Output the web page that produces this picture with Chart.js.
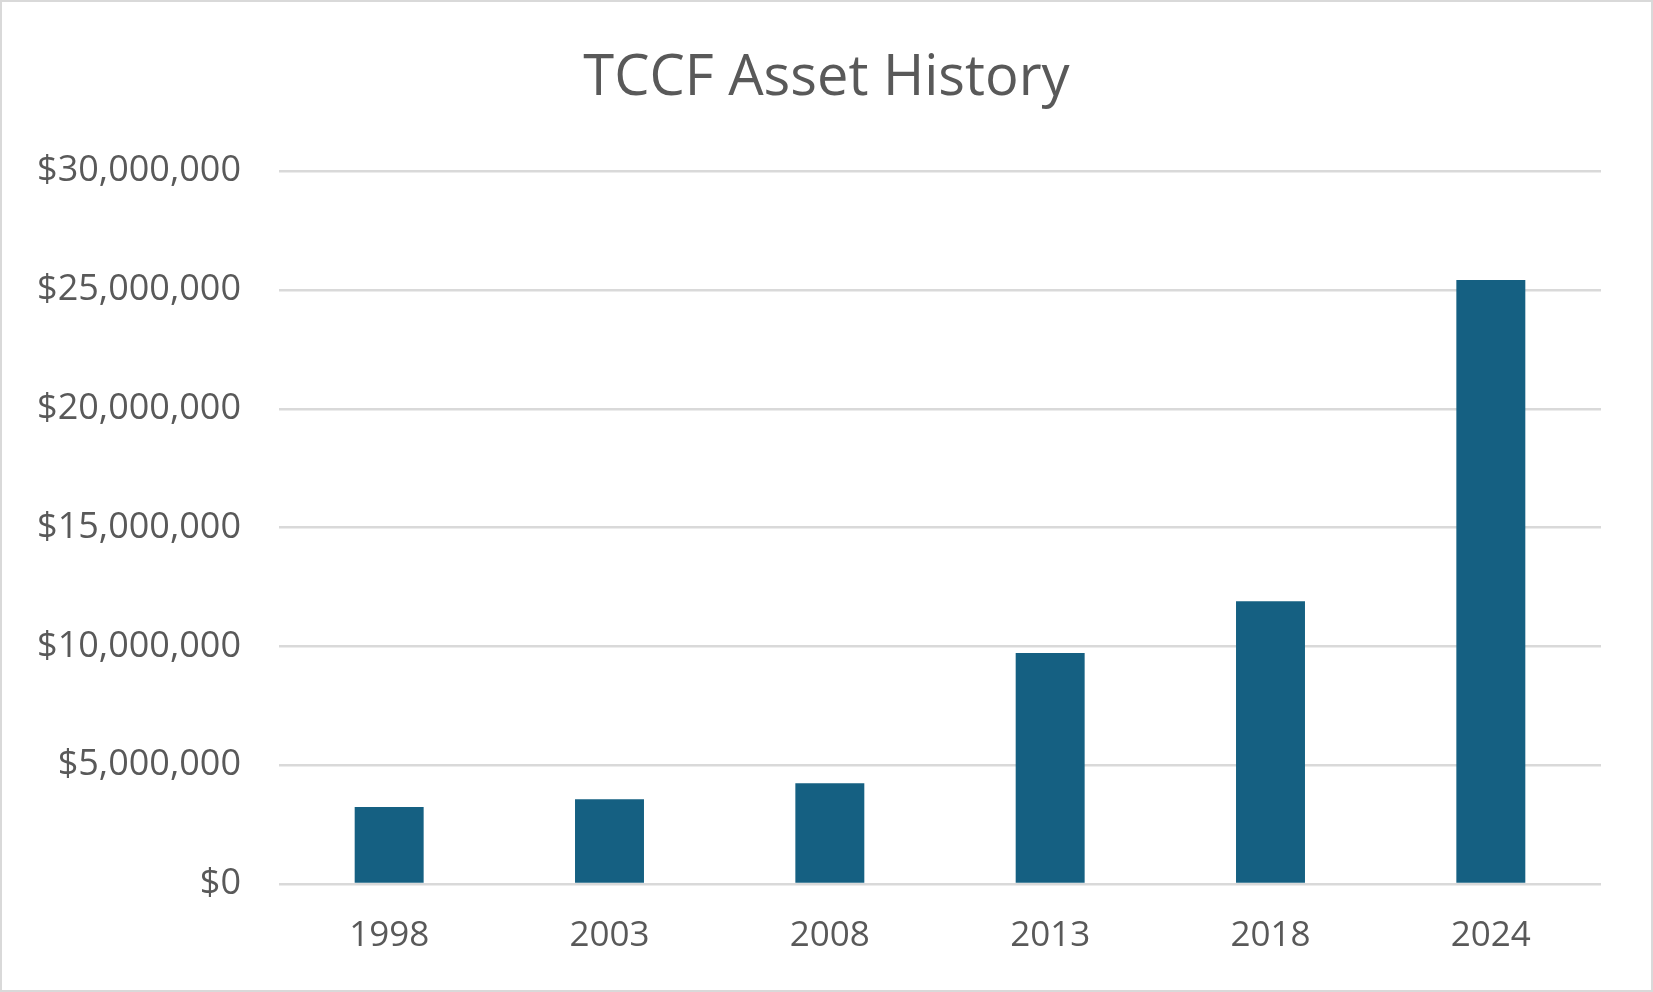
<!DOCTYPE html>
<html>
<head>
<meta charset="utf-8">
<script src="https://cdn.jsdelivr.net/npm/chart.js@4"></script>
<style>
    body { margin: 0; background: #fff; }
    #wrap { width: 1653px; height: 992px; }
</style>
</head>
<body>
<div id="wrap"><canvas id="assetChart" width="1653" height="992"></canvas></div>
<script>
// Chart data
const years = ['1998', '2003', '2008', '2013', '2018', '2024'];
const assets = [3240000, 3570000, 4240000, 9720000, 11900000, 25420000];
const yTicks = [0, 5000000, 10000000, 15000000, 20000000, 25000000, 30000000];

const textColor = '#595959';
const fontFamily = '"Open Sans", "Noto Sans", sans-serif';

// white background + thin grey frame round the whole chart
const framePlugin = {
    id: 'frame',
    beforeDraw(chart) {
        const c = chart.ctx;
        c.save();
        c.fillStyle = '#ffffff';
        c.fillRect(0, 0, chart.width, chart.height);
        c.strokeStyle = '#d9d9d9';
        c.lineWidth = 2;
        c.strokeRect(1, 1, chart.width - 2, chart.height - 2);
        c.restore();
    }
};

document.addEventListener('DOMContentLoaded', function() {
    const ctx = document.getElementById('assetChart');
    new Chart(ctx, {
        type: 'bar',
        data: {
            labels: years,
            datasets: [{
                label: 'Assets',
                data: assets,
                backgroundColor: '#156082',
                borderWidth: 0,
                categoryPercentage: 1,
                barPercentage: 0.313
            }]
        },
        options: {
            responsive: false,
            devicePixelRatio: 1,
            animation: false,
            layout: { padding: 0 },
            plugins: {
                legend: { display: false },
                tooltip: { enabled: false },
                title: {
                    display: true,
                    text: 'TCCF Asset History',
                    color: textColor,
                    font: { family: fontFamily, size: 56, weight: 'normal' },
                    padding: { top: 45, bottom: 59 }
                }
            },
            scales: {
                x: {
                    afterFit: function(scale) { scale.height = 108; },
                    grid: { display: false, drawTicks: false },
                    border: { display: false },
                    ticks: {
                        color: textColor,
                        font: { family: fontFamily, size: 35 },
                        padding: 31
                    }
                },
                y: {
                    min: 0,
                    max: 30000000,
                    afterFit: function(scale) { scale.width = 279; },
                    afterBuildTicks: function(scale) {
                        scale.ticks = yTicks.map(v => ({ value: v }));
                    },
                    grid: { color: '#d9d9d9', lineWidth: 2.5, drawTicks: false },
                    border: { display: false },
                    ticks: {
                        color: textColor,
                        font: { family: fontFamily, size: 36 },
                        padding: 38,
                        callback: function(v) { return '$' + v.toLocaleString('en-US'); }
                    }
                },
                // empty right-hand spacer so the title stays centred on the full width
                spacer: {
                    type: 'linear',
                    position: 'right',
                    afterFit: function(scale) { scale.width = 52; },
                    grid: { display: false, drawTicks: false },
                    border: { display: false },
                    ticks: { display: false }
                }
            }
        },
        plugins: [framePlugin]
    });
});
</script>
</body>
</html>
